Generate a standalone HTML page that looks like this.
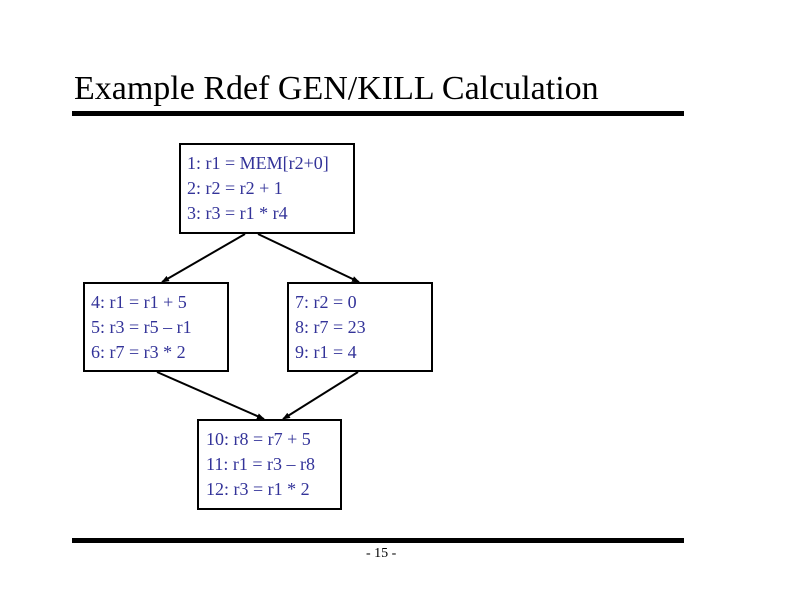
<!DOCTYPE html>
<html><head><style>
body{margin:0;width:792px;height:612px;background:#fff;position:relative;overflow:hidden;font-family:"Liberation Serif",serif}
.t{position:absolute;left:74px;top:70px;font-size:34px;color:#000;white-space:nowrap}
.rule{position:absolute;left:72px;width:612px;height:5px;background:#000}
.box{position:absolute;border:2px solid #000;box-sizing:border-box;color:#333399;font-size:18px;line-height:25px;padding:6px 0 0 6px;white-space:nowrap}
.pg{position:absolute;left:366px;top:546px;font-size:14px}
</style></head><body>
<div class="t">Example Rdef GEN/KILL Calculation</div>
<div class="rule" style="top:111px"></div>
<div class="rule" style="top:538px"></div>
<div class="pg">- 15 -</div>
<div class="box" style="left:179px;top:143px;width:176px;height:91px">1: r1 = MEM[r2+0]<br>2: r2 = r2 + 1<br>3: r3 = r1 * r4</div>
<div class="box" style="left:83px;top:282px;width:146px;height:90px">4: r1 = r1 + 5<br>5: r3 = r5 – r1<br>6: r7 = r3 * 2</div>
<div class="box" style="left:287px;top:282px;width:146px;height:90px">7: r2 = 0<br>8: r7 = 23<br>9: r1 = 4</div>
<div class="box" style="left:197px;top:419px;width:145px;height:91px;padding-left:7px">10: r8 = r7 + 5<br>11: r1 = r3 – r8<br>12: r3 = r1 * 2</div>
<svg width="792" height="612" style="position:absolute;left:0;top:0">
<defs><marker id="a" markerWidth="8" markerHeight="6" refX="7" refY="3" orient="auto" markerUnits="userSpaceOnUse"><path d="M0,0 L8,3 L0,6z" fill="#000"/></marker></defs>
<g stroke="#000" stroke-width="2" marker-end="url(#a)">
<line x1="245" y1="234" x2="162" y2="282"/>
<line x1="258" y1="234" x2="359" y2="282"/>
<line x1="157" y1="372" x2="264" y2="419"/>
<line x1="358" y1="372" x2="283" y2="419"/>
</g></svg>
</body></html>
